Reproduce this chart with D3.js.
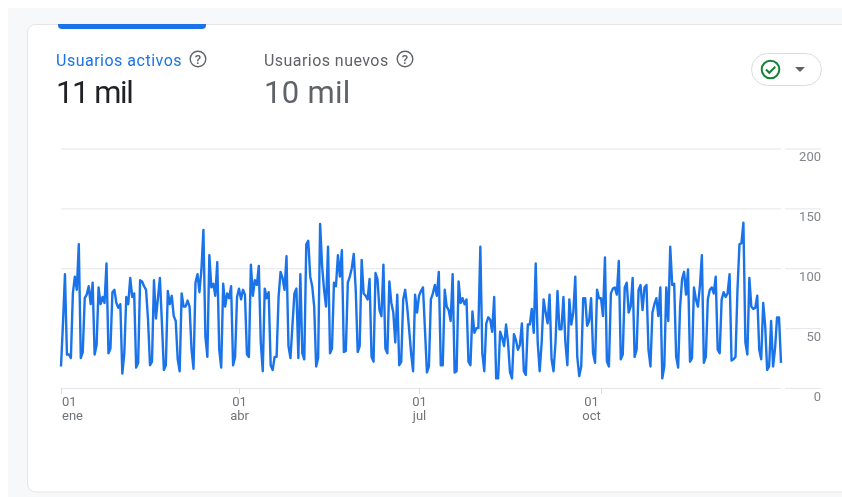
<!DOCTYPE html>
<html><head><meta charset="utf-8">
<script src="https://cdn.jsdelivr.net/npm/d3@7/dist/d3.min.js"></script>
<style>
html,body{margin:0;padding:0;background:#fff;overflow:hidden}
svg{display:block;filter:blur(0.45px)}
text{font-family:Roboto,sans-serif}
</style></head><body><div id="chart"></div>
<script>
const activeUsers = [
18,54,95,28,28,25,79,93,82,120,25,30,75,78,85,70,88,28,36,84,70,76,71,104,29,33,80,82,71,67,70,12,29,76,70,92,76,79,17,21,
90,89,85,82,57,19,22,90,58,75,92,55,15,19,81,70,77,60,56,24,14,79,68,68,73,68,32,16,88,95,80,99,132,43,26,111,84,87,77,105,
32,17,87,68,79,75,85,19,26,76,83,74,82,78,28,26,103,77,90,86,102,38,14,83,75,80,19,15,26,26,76,97,92,82,110,35,
25,52,79,83,25,95,29,24,120,123,93,85,68,18,25,137,102,82,68,118,29,33,88,85,111,93,115,30,31,88,93,100,112,82,30,35,
107,79,77,74,91,26,22,96,91,65,60,103,33,29,89,71,63,38,78,19,22,74,82,68,49,29,14,78,63,77,81,84,49,13,18,74,79,86,77,97,
19,19,82,68,65,56,95,13,14,89,71,75,70,74,22,19,64,46,50,50,118,29,14,54,59,57,47,76,8,8,47,42,35,53,38,13,8,45,40,32,36,54,
14,11,53,53,66,46,104,38,14,38,74,63,54,78,24,14,38,81,49,49,76,38,19,74,53,63,93,26,10,18,75,75,52,56,75,29,21,82,75,75,60,
109,22,18,79,83,84,78,106,24,28,84,88,63,68,92,26,32,82,86,65,84,86,32,18,63,70,75,60,84,8,18,84,56,118,86,87,26,17,68,91,
97,78,99,22,25,84,74,68,85,111,21,26,74,82,84,79,93,32,29,74,80,76,79,95,23,24,26,82,120,121,138,38,28,92,68,66,67,77,32,24,
71,52,15,18,56,18,33,59,59,21];
const startDate = "2023-01-01";
const yTicks = [0,50,100,150,200];
const xTickDates = ["2023-01-01","2023-04-01","2023-07-01","2023-10-01"];
const xTickDays = ["01","01","01","01"];
const xTickMonths = ["ene","abr","jul","oct"];

const W=842,H=497;
const svg=d3.select("#chart").append("svg").attr("width",W).attr("height",H);
const parse=d3.utcParse("%Y-%m-%d");
const days=activeUsers.map((v,i)=>d3.utcDay.offset(parse(startDate),i));
const x=d3.scaleUtc().domain(d3.extent(days)).range([61,781]);
const y=d3.scaleLinear().domain([0,200]).range([388,148.5]);

// page + card
svg.append("rect").attr("x",8).attr("y",8).attr("width",W).attr("height",H).attr("fill","#f7f8f9");
svg.append("rect").attr("x",27.5).attr("y",24.5).attr("width",W).attr("height",467.5).attr("rx",8)
  .attr("fill","#fff").attr("stroke","#e4e6e9");
svg.append("path").attr("d","M58 24H206V25a4 4 0 0 1-4 4H62a4 4 0 0 1-4-4Z").attr("fill","#1a73e8");

// headers
function help(cx,cy){
  const g=svg.append("g").attr("transform",`translate(${cx},${cy})`);
  g.append("circle").attr("r",7.8).attr("fill","none").attr("stroke","#5f6368").attr("stroke-width",1.4);
  g.append("text").attr("text-anchor","middle").attr("y",4.5).attr("font-size",13).attr("font-weight",500).attr("fill","#5f6368").text("?");
}
svg.append("text").attr("x",56).attr("y",66).attr("font-size",16).attr("letter-spacing",0.5).attr("fill","#1a73e8").text("Usuarios activos");
svg.append("text").attr("x",264).attr("y",66).attr("font-size",16).attr("letter-spacing",0.45).attr("fill","#5f6368").text("Usuarios nuevos");
svg.append("text").attr("x",56).attr("y",103).attr("font-size",31).attr("letter-spacing",-1.4).attr("fill","#202124").text("11 mil");
svg.append("text").attr("x",264).attr("y",103).attr("font-size",31).attr("letter-spacing",0.3).attr("fill","#5f6368").text("10 mil");
help(198,59); help(405,59);

// compare button
svg.append("rect").attr("x",751.5).attr("y",53.5).attr("width",70).attr("height",32).attr("rx",16).attr("fill","#fff").attr("stroke","#dadce0");
svg.append("circle").attr("cx",770.5).attr("cy",69.5).attr("r",8.8).attr("fill","none").attr("stroke","#188038").attr("stroke-width",2);
svg.append("path").attr("d","M766 69.5l3.3 3.3 6-6").attr("fill","none").attr("stroke","#188038").attr("stroke-width",2);
svg.append("path").attr("d","M795 67h10l-5 5Z").attr("fill","#5f6368");

// y axis: grid + labels
const yAxis=d3.axisRight(y).tickValues(yTicks).tickSize(720).tickPadding(0);
const gy=svg.append("g").attr("transform","translate(61,0)").call(yAxis);
gy.select(".domain").remove();
gy.selectAll("line").attr("stroke","#e4e6e9").attr("stroke-width",1);
gy.selectAll(".tick").append("line").attr("x1",724).attr("x2",760).attr("stroke","#e4e6e9");
gy.selectAll("text").attr("x",760).attr("dy",null).attr("y",12).attr("text-anchor","end")
  .attr("font-size",13).attr("fill","#80868b").attr("font-family","Roboto,sans-serif");

// x axis
const xDates=xTickDates.map(parse);
const xAxis=d3.axisBottom(x).tickValues(xDates).tickSize(6).tickFormat("");
const gx=svg.append("g").attr("transform","translate(0,388)").call(xAxis);
gx.select(".domain").remove();
gx.selectAll("line").attr("stroke","#dadce0");
const xlab=svg.append("g").attr("font-size",13).attr("fill","#70757a");
xDates.forEach((d,i)=>{
  const px=x(d);
  const last=i===xDates.length-1;
  const anchor=i===0?"start":"middle";
  const dx=i===0?1:(last?-9.5:0.5);
  xlab.append("text").attr("x",px+dx).attr("y",406).attr("text-anchor",anchor).text(xTickDays[i]);
  xlab.append("text").attr("x",px+dx).attr("y",420).attr("text-anchor",anchor).text(xTickMonths[i]);
});

// series
const line=d3.line().x((d,i)=>x(days[i])).y(d=>y(d));
svg.append("path").datum(activeUsers).attr("d",line).attr("fill","none")
  .attr("stroke","#1a73e8").attr("stroke-width",2.4).attr("stroke-linejoin","round");
</script></body></html>
